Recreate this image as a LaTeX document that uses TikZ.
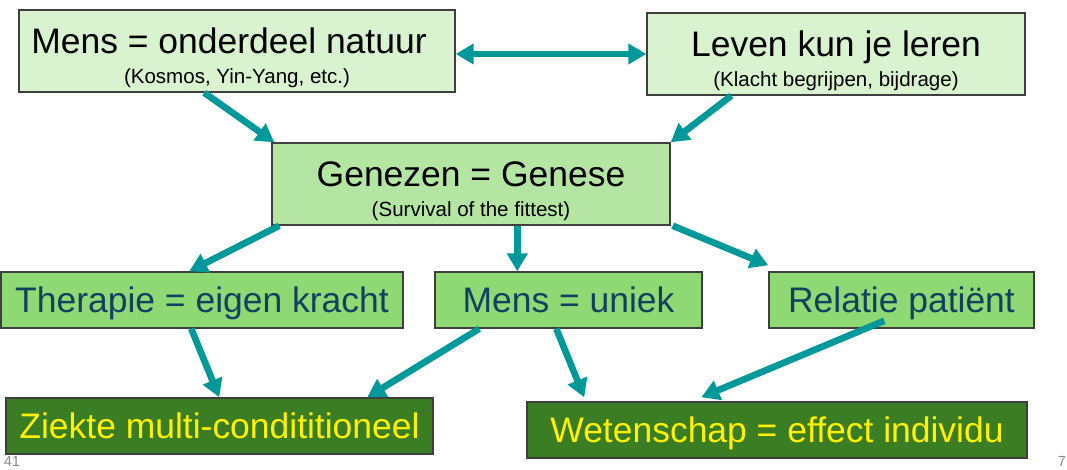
\documentclass[tikz,border=0pt]{standalone}
\usepackage{fontspec}
\setmainfont{Liberation Sans}
\usetikzlibrary{arrows.meta,calc}
\definecolor{paleg}{HTML}{D9F2D0}
\definecolor{midg}{HTML}{B4E5A2}
\definecolor{leafg}{HTML}{8ED973}
\definecolor{darkg}{HTML}{3B7D23}
\definecolor{tealq}{HTML}{009999}
\definecolor{navy}{HTML}{14405F}
\definecolor{frame}{HTML}{3F3F3F}
\definecolor{pgnum}{HTML}{8C8C8C}
\newcommand{\boxsub}[1]{{\fontsize{15.4}{22.5}\selectfont #1}}

\begin{document}
\begin{tikzpicture}[x=.75pt,y=-.75pt,>={Triangle[width=15pt,length=13.5pt]},
  box/.style={draw=frame,line width=1.1pt,inner sep=0pt,align=center,
    font=\fontsize{26.6}{22.5}\selectfont},
  topbox/.style={box,fill=paleg,minimum height=61.5pt},
  onerow/.style={box,minimum height=42pt,text height=19.4pt,text depth=0pt},
  link/.style={tealq,line width=5pt}]
  \useasboundingbox (0,0) rectangle (1067,470);

  \node[topbox,minimum width=327pt] (mensnat) at (237,51)
    {\rule{0pt}{29pt}Mens = onderdeel natuur\hspace*{12pt}\\\boxsub{(Kosmos, Yin-Yang, etc.)}};
  \node[topbox,minimum width=283.5pt] (leven) at (836,54)
    {\rule{0pt}{29pt}Leven kun je leren\\\boxsub{(Klacht begrijpen, bijdrage)}};
  \node[topbox,fill=midg,minimum width=298.5pt] (genezen) at (471,184)
    {\rule{0pt}{29pt}Genezen = Genese\\\boxsub{(Survival of the fittest)}};

  \node[onerow,fill=leafg,text=navy,minimum width=301.5pt] (therapie) at (202,300)
    {Therapie = eigen kracht};
  \node[onerow,fill=leafg,text=navy,minimum width=200.25pt] (uniek) at (568.5,300)
    {Mens = uniek};
  \node[onerow,fill=leafg,text=navy,minimum width=198.75pt] (relatie) at (901.5,300)
    {Relatie patiënt};

  \node[onerow,fill=darkg,text=yellow,minimum width=320.25pt] (ziekte) at (219.5,426)
    {Ziekte multi-condititioneel};
  \node[onerow,fill=darkg,text=yellow,minimum width=375pt] (wetensch) at (777,430)
    {Wetenschap = effect individu};

  \node[pgnum,font=\fontsize{11}{13}\selectfont] (pgleft) at (12,461) {41};
  \node[pgnum,font=\fontsize{11}{13}\selectfont] (pgright) at (1062,461) {7};

  \coordinate (cdown) at ($(genezen.south west)+(246,0)$);
  \draw[<->,link] (mensnat.east |- leven.west) -- (leven.west);
  \draw[->,link] ($(mensnat.south west)+(186,0)$) -- ($(genezen.north west)+(3,0)$);
  \draw[->,link] ($(leven.south west)+(85,0)$) -- (genezen.north east);
  \draw[->,link] ($(genezen.south west)+(8,0)$) -- ($(therapie.north west)+(189,0)$);
  \draw[->,link] (cdown) -- (cdown |- uniek.north);
  \draw[->,link] ($(genezen.south east)+(2,0)$) -- ($(relatie.north west)+(0,-6)$);
  \draw[->,link] ($(therapie.south west)+(191,0)$) -- ($(ziekte.north west)+(214,0)$);
  \draw[->,link] ($(uniek.south west)+(45,0)$) -- ($(ziekte.north west)+(362,0)$);
  \draw[->,link] ($(uniek.south west)+(122,0)$) -- ($(wetensch.north west)+(58,-4)$);
  \draw[->,link] ($(relatie.south west)+(116,-8)$) -- ($(wetensch.north west)+(175,-4)$);
\end{tikzpicture}
\end{document}
